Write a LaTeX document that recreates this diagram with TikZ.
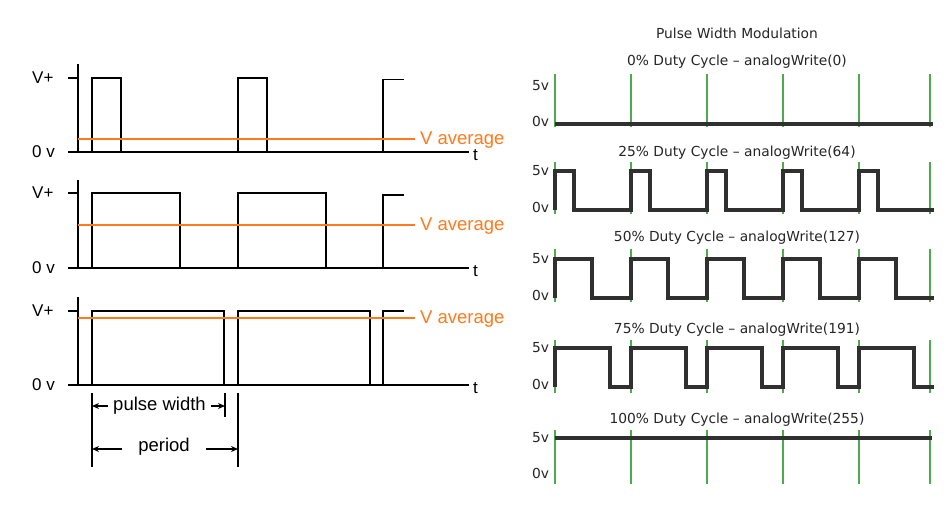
\documentclass[tikz,border=0pt]{standalone}
\usepackage{fontspec}
\setmainfont{Liberation Sans}
\newfontfamily\rfont{DejaVu Sans}
\usetikzlibrary{arrows.meta}
\definecolor{vorange}{RGB}{255,122,28}
\definecolor{pgreen}{RGB}{76,172,76}
\definecolor{wavegray}{RGB}{48,48,48}
\begin{document}
\begin{tikzpicture}[x=1pt,y=-1pt,
  axisln/.style={line width=2.6pt},
  tickln/.style={line width=1.4pt},
  pulseln/.style={line width=1.3pt},
  avgln/.style={vorange,line width=1.6pt},
  lab/.style={font=\fontsize{17}{17}\selectfont,inner sep=0pt},
  avglab/.style={font=\fontsize{18.5}{18.5}\selectfont,text=vorange,inner sep=0pt,anchor=west},
  dimln/.style={line width=1.2pt},
  dimarr/.style={line width=1.2pt,-{Stealth[length=7pt,width=6pt]}},
  dimlab/.style={font=\fontsize{18.5}{18.5}\selectfont},
  gline/.style={pgreen,line width=1.3pt},
  wave/.style={wavegray,line width=3.4pt,line join=miter,line cap=butt},
  rtitle/.style={font=\rfont\fontsize{13.8}{13.8}\selectfont,text=black!85,inner sep=0pt},
  rlab/.style={font=\rfont\fontsize{13.8}{13.8}\selectfont,text=black!85,inner sep=0pt,anchor=west}
]
\useasboundingbox (0,0) rectangle (948,530);
\fill[white] (0,0) rectangle (948,530);

% ---------- left panels ----------
\foreach \i/\at/\vp/\b/\av/\w/\tt in {1/64/78/152/139/29/79.5, 2/180/193/268/225/88/195, 3/297/311/385/318/132/311}{
  \draw[axisln] (78,\at) -- (78,\b);
  \draw[tickln] (68,\vp) -- (78,\vp);
  \draw[tickln] (68,\b) -- (78,\b);
  \draw[axisln] (77,\b) -- (469,\b);
  \draw[pulseln] (92,\b) -- (92,\vp) -- ({92+\w},\vp) -- ({92+\w},\b);
  \draw[pulseln] (238,\b) -- (238,\vp) -- ({238+\w},\vp) -- ({238+\w},\b);
  \draw[pulseln] (383,\b) -- (383,\tt) -- (404,\tt);
  \draw[avgln] (78,\av) -- (415,\av);
  \node[lab,anchor=west] (vp\i) at (32,\vp) {V+};
  \node[lab,anchor=west] (zv\i) at (32,\b) {0 v};
  \node[lab,anchor=west] (t\i) at (473,{\b+3}) {t};
  \node[avglab] (va\i) at (420,{\av+1}) {V average};
}

% dimension lines
\coordinate (d1a) at (92,393);  \coordinate (d1b) at (92,467);
\coordinate (d2a) at (238,393); \coordinate (d2b) at (238,467);
\coordinate (d3a) at (225,393); \coordinate (d3b) at (225,417);
\draw[dimln] (d1a) -- (d1b);
\draw[dimln] (d2a) -- (d2b);
\draw[dimln] (d3a) -- (d3b);
\coordinate (pwL) at (92,406);  \coordinate (pwR) at (225,406);
\coordinate (peL) at (92,449);  \coordinate (peR) at (238,449);
\node[dimlab,inner xsep=5pt,inner ysep=2pt] (pwt) at (159.5,406) {pulse width};
\node[dimlab,inner xsep=16pt,inner ysep=2pt] (pet) at (164,447) {period};
\draw[dimarr] (pwt.west |- pwL) -- (pwL);
\draw[dimarr] (pwt.east |- pwR) -- (pwR);
\draw[dimarr] (pet.west |- peL) -- (peL);
\draw[dimarr] (pet.east |- peR) -- (peR);

% ---------- right panel ----------
\node[rtitle] (pwm) at (737,33) {Pulse Width Modulation};

\node[rtitle] (r0) at (737,62) {0\% Duty Cycle – analogWrite(0)};
\node[rtitle] (r1) at (737,153) {25\% Duty Cycle – analogWrite(64)};
\node[rtitle] (r2) at (737,238) {50\% Duty Cycle – analogWrite(127)};
\node[rtitle] (r3) at (737,330) {75\% Duty Cycle – analogWrite(191)};
\node[rtitle] (r4) at (737,420) {100\% Duty Cycle – analogWrite(255)};

\foreach \i/\hi/\lo/\gt/\gb in {0/86/124/74/127, 1/171/210/162/214, 2/259/298/249/302, 3/348/387/340/393, 4/438/476/430/484}{
  \foreach \gx in {555,631,707,783,859,930}{
    \draw[gline] (\gx,\gt) -- (\gx,\gb);
  }
  \node[rlab] (fv\i) at (532,\hi) {5v};
  \node[rlab] (ov\i) at (532,{\lo-3}) {0v};
}

% waves
\draw[wave] (555,124) -- (933,124);
\foreach \i/\hi/\lo/\d in {1/171/210/19, 2/259/298/37, 3/348/387/55}{
  \draw[wave] (555,\lo)
    \foreach \k in {0,...,4}{
      -- ({555+76*\k},\lo) -- ({555+76*\k},\hi) -- ({555+76*\k+\d},\hi) -- ({555+76*\k+\d},\lo)
    } -- (934,\lo);
}
\draw[wave] (555,438) -- (932,438);
\end{tikzpicture}
\end{document}
